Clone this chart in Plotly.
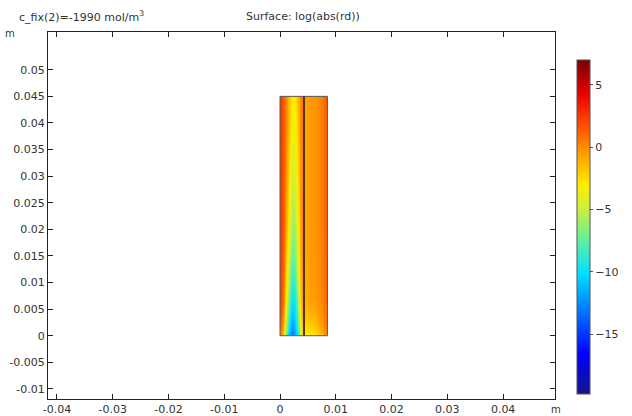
import plotly.graph_objects as go

# ---- data ----
# left domain: cell edges (m) and field log(abs(rd)) at cell centres
left_x = [0.0, 0.00048, 0.00096, 0.00143, 0.00191, 0.00239, 0.00287, 0.00334, 0.00382, 0.0043]
left_y = [0.0, 0.001, 0.004, 0.009, 0.016, 0.025, 0.035, 0.0425, 0.045]
left_z = [
    [0.0, -3.0, -8.0, -12.0, -13.0, -12.0, -9.0, -5.0, -2.0],
    [1.0, -2.0, -6.0, -10.0, -12.0, -11.0, -8.0, -4.0, -1.0],
    [1.8, -0.5, -4.0, -8.0, -10.0, -9.5, -6.5, -2.5, -0.3],
    [2.0, 0.3, -2.5, -6.0, -8.0, -7.5, -5.0, -1.5, 0.2],
    [2.2, 0.8, -1.0, -4.0, -6.0, -6.0, -3.5, -1.0, 0.5],
    [2.2, 1.0, -0.5, -3.0, -4.5, -4.5, -2.5, -0.5, 0.5],
    [2.2, 1.0, 0.0, -2.0, -3.5, -3.5, -2.0, 0.0, 0.6],
    [2.2, 1.0, 0.0, -2.0, -3.0, -3.0, -1.5, 0.0, 0.6],
]
# right domain
right_x = [0.0043, 0.0051, 0.006, 0.0068, 0.0077, 0.0085]
right_y = [0.0, 0.001, 0.004, 0.01, 0.03, 0.045]
right_z = [
    [-3.0, -3.0, -2.5, -1.5, 0.0],
    [-2.0, -1.8, -1.4, -0.6, 0.5],
    [-1.0, -0.6, -0.4, 0.0, 1.0],
    [-0.6, -0.4, -0.2, 0.2, 1.2],
    [-0.6, -0.4, -0.2, 0.2, 1.3],
]
# geometry edges
outer_x = [0.0, 0.0085, 0.0085, 0.0, 0.0]
outer_y = [0.0, 0.0, 0.045, 0.045, 0.0]
divider_x = [0.0043, 0.0043]
divider_y = [0.0, 0.045]

x_ticks = [-0.04, -0.03, -0.02, -0.01, 0, 0.01, 0.02, 0.03, 0.04]
x_ticklabels = ["-0.04", "-0.03", "-0.02", "-0.01", "0", "0.01", "0.02", "0.03", "0.04"]
y_ticks = [-0.01, -0.005, 0, 0.005, 0.01, 0.015, 0.02, 0.025, 0.03, 0.035, 0.04, 0.045, 0.05]
y_ticklabels = ["-0.01", "-0.005", "0", "0.005", "0.01", "0.015", "0.02", "0.025",
                "0.03", "0.035", "0.04", "0.045", "0.05"]
cb_ticks = [-15, -10, -5, 0, 5]
zmin, zmax = -19.8, 7.0

rainbow = [
    [0.0, "#15158a"],
    [0.12, "#0000ff"],
    [0.36, "#00e0ff"],
    [0.46, "#60f0a0"],
    [0.55, "#c8f040"],
    [0.625, "#ffee00"],
    [0.70, "#ffb000"],
    [0.74, "#ff8c00"],
    [0.82, "#ff4000"],
    [0.90, "#e80000"],
    [1.0, "#780000"],
]

font = dict(family="DejaVu Sans", size=11, color="#333333")
W, H = 632, 416
ML, MR, MT, MB = 48, 77, 32, 17
pw, ph = W - ML - MR, H - MT - MB


def px(xp):
    return (xp - ML) / pw


def py(yp):
    return (H - MB - yp) / ph


fig = go.Figure()
fig.add_trace(go.Heatmap(
    x=left_x, y=left_y, z=left_z, zmin=zmin, zmax=zmax, colorscale=rainbow,
    zsmooth="best", showscale=True,
    colorbar=dict(
        x=px(577), xanchor="left", xref="paper",
        y=py(394), yanchor="bottom", lenmode="pixels", len=334,
        thickness=13, outlinecolor="#555555", outlinewidth=1,
        tickvals=cb_ticks, ticks="outside", ticklen=3, tickcolor="#555555",
        tickfont=font, ypad=0, xpad=0,
    ),
))
fig.add_trace(go.Heatmap(
    x=right_x, y=right_y, z=right_z, zmin=zmin, zmax=zmax, colorscale=rainbow,
    zsmooth="best", showscale=False,
))
fig.add_trace(go.Scatter(x=outer_x, y=outer_y, mode="lines",
                         line=dict(color="#555555", width=1), showlegend=False,
                         hoverinfo="skip"))
fig.add_trace(go.Scatter(x=divider_x, y=divider_y, mode="lines",
                         line=dict(color="#5a3010", width=2), showlegend=False,
                         hoverinfo="skip"))

axis_common = dict(showgrid=False, zeroline=False, showline=True, linecolor="#222222",
                   linewidth=1, mirror="ticks", ticks="inside", ticklen=5,
                   tickcolor="#222222", tickfont=font, automargin=False)
fig.update_xaxes(range=[-0.0416, 0.0493], tickvals=x_ticks, ticktext=x_ticklabels,
                 **axis_common)
fig.update_yaxes(range=[-0.0119, 0.0571], tickvals=y_ticks, ticktext=y_ticklabels,
                 **axis_common)

fig.update_layout(
    width=W, height=H,
    margin=dict(l=ML, r=MR, t=MT, b=MB, autoexpand=False),
    paper_bgcolor="white", plot_bgcolor="white",
    font=font, showlegend=False,
)
fig.add_annotation(text="Surface: log(abs(rd))", x=px(303), y=py(17), xref="paper", yref="paper",
                   showarrow=False, font=font, xanchor="center", yanchor="middle")
fig.add_annotation(text="c_fix(2)=-1990 mol/m<sup>3</sup>", x=px(17), y=py(16), xref="paper",
                   yref="paper", showarrow=False, font=font, xanchor="left", yanchor="middle")
fig.add_annotation(text="m", x=px(10), y=py(33), xref="paper", yref="paper",
                   showarrow=False, font=dict(family="DejaVu Sans", size=10, color="#333333"),
                   xanchor="center", yanchor="middle")
fig.add_annotation(text="m", x=px(556), y=py(409), xref="paper", yref="paper",
                   showarrow=False, font=dict(family="DejaVu Sans", size=10, color="#333333"),
                   xanchor="center", yanchor="middle")

fig.write_html("out.html")
